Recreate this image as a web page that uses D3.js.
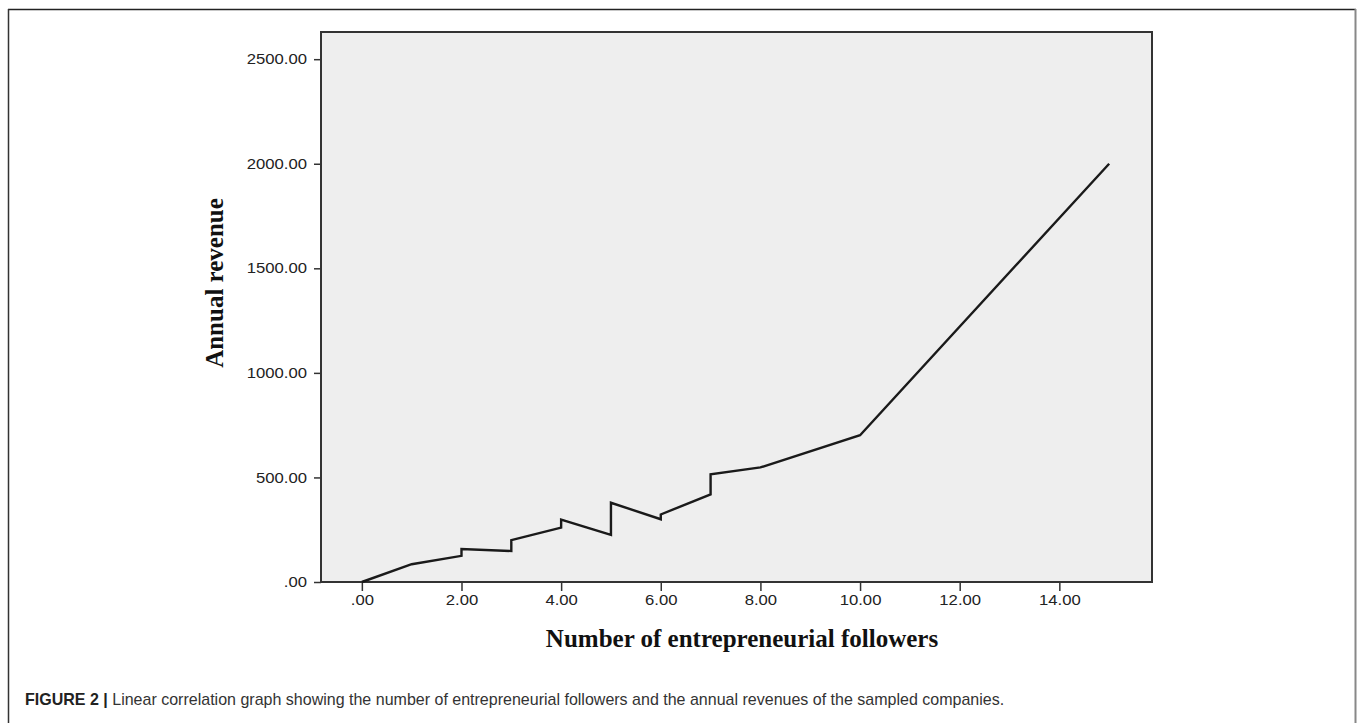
<!DOCTYPE html>
<html>
<head>
<meta charset="utf-8">
<script src="https://cdn.jsdelivr.net/npm/d3@7"></script>
<style>
  html, body { margin: 0; padding: 0; background: #fff; }
  svg { display: block; }
</style>
</head>
<body>
<svg id="chart" width="1360" height="723"></svg>
<script>
// ---- data ----
const followers = [0, 1, 2, 2, 3, 3, 4, 4, 5, 5, 6, 6, 7, 7, 8, 10, 15];
const revenue   = [0, 85, 125, 158, 148, 200, 260, 298, 225, 379, 300, 323, 419, 515, 548, 702, 2000];
const xTicks = [0, 2, 4, 6, 8, 10, 12, 14];
const yTicks = [0, 500, 1000, 1500, 2000, 2500];
const xTitle = "Number of entrepreneurial followers";
const yTitle = "Annual revenue";
const captionBold = "FIGURE 2 |";
const captionText = " Linear correlation graph showing the number of entrepreneurial followers and the annual revenues of the sampled companies.";

const svg = d3.select("#chart");
const plot = { left: 321, right: 1152, top: 32, bottom: 582 };

const x = d3.scaleLinear().domain([-0.82, 15.86]).range([plot.left, plot.right]);
const y = d3.scaleLinear().domain([0, 2630]).range([plot.bottom, plot.top]);
const fmt = d => d === 0 ? ".00" : d.toFixed(2);

// outer frame
svg.append("line").attr("x1", 8).attr("x2", 1356).attr("y1", 9.5).attr("y2", 9.5)
  .attr("stroke", "#222").attr("stroke-width", 1.5);
svg.append("line").attr("x1", 8.5).attr("x2", 8.5).attr("y1", 9).attr("y2", 730)
  .attr("stroke", "#333").attr("stroke-width", 1.5);
svg.append("line").attr("x1", 1355.5).attr("x2", 1355.5).attr("y1", 9).attr("y2", 730)
  .attr("stroke", "#888").attr("stroke-width", 2);

// plot background
svg.append("rect")
  .attr("x", plot.left).attr("y", plot.top)
  .attr("width", plot.right - plot.left).attr("height", plot.bottom - plot.top)
  .attr("fill", "#eeeeee");

// axes
const sx = 1.15;
const yAxis = svg.append("g").attr("transform", `translate(${plot.left},0)`)
  .call(d3.axisLeft(y).tickValues(yTicks).tickFormat(fmt).tickSize(7).tickPadding(7).tickSizeOuter(0));
const xAxis = svg.append("g").attr("transform", `translate(0,${plot.bottom})`)
  .call(d3.axisBottom(x).tickValues(xTicks).tickFormat(fmt).tickSize(9).tickPadding(4).tickSizeOuter(0));
[yAxis, xAxis].forEach(a => {
  a.select(".domain").remove();
  a.selectAll(".tick line").attr("stroke", "#333").attr("stroke-width", 1.5);
  a.selectAll(".tick text")
    .attr("fill", "#222")
    .style("font-family", "'Liberation Sans', Arial, sans-serif")
    .style("font-size", "14.5px");
});
yAxis.selectAll(".tick text").attr("x", -14 / sx).attr("transform", `scale(${sx},1)`);
xAxis.selectAll(".tick text").attr("transform", `scale(${sx},1)`);

// plot border
svg.append("rect")
  .attr("x", plot.left).attr("y", plot.top)
  .attr("width", plot.right - plot.left).attr("height", plot.bottom - plot.top)
  .attr("fill", "none").attr("stroke", "#333").attr("stroke-width", 2);

// line
const pts = followers.map((f, i) => [f, revenue[i]]);
svg.append("path")
  .datum(pts)
  .attr("fill", "none")
  .attr("stroke", "#1a1a1a")
  .attr("stroke-width", 2.4)
  .attr("stroke-linejoin", "miter")
  .attr("d", d3.line().x(d => x(d[0])).y(d => y(d[1])));

// axis titles
svg.append("text")
  .attr("x", 742).attr("y", 647)
  .attr("text-anchor", "middle")
  .style("font-family", "'Liberation Serif', 'Times New Roman', serif")
  .style("font-weight", "bold").style("font-size", "25px")
  .attr("fill", "#111")
  .text(xTitle);

svg.append("text")
  .attr("transform", "translate(223,283) rotate(-90)")
  .attr("text-anchor", "middle")
  .style("font-family", "'Liberation Serif', 'Times New Roman', serif")
  .style("font-weight", "bold").style("font-size", "25px")
  .attr("fill", "#111")
  .text(yTitle);

// caption
const cap = svg.append("text")
  .attr("x", 25).attr("y", 705)
  .style("font-family", "'Liberation Sans', Arial, sans-serif")
  .style("font-size", "16px")
  .attr("fill", "#222");
cap.append("tspan").style("font-weight", "bold").text(captionBold);
cap.append("tspan").style("font-weight", "normal").attr("fill", "#333").text(captionText);
const capLen = cap.node().getComputedTextLength();
const capScale = 980 / capLen;
cap.attr("x", 0).attr("transform", `translate(25,0) scale(${capScale},1)`);
</script>
</body>
</html>
